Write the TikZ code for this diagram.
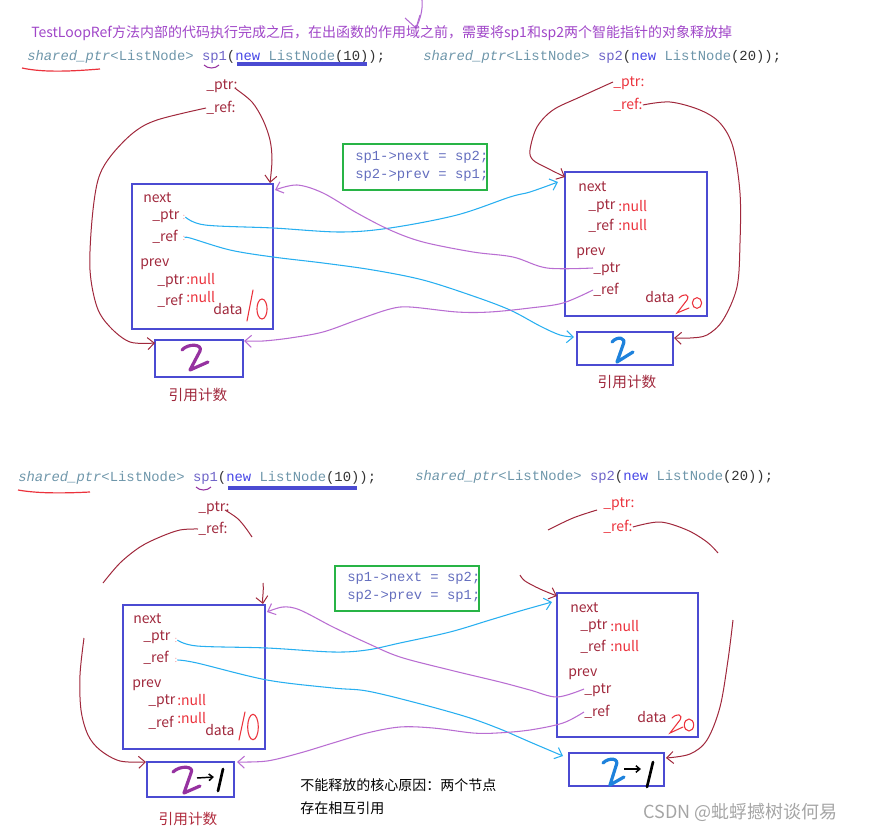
\documentclass[tikz,border=0pt]{standalone}
\usepackage{fontspec}
\setmainfont{Liberation Sans}
\newfontfamily\cjkf{Noto Sans CJK SC}
\newfontfamily\codef{Liberation Mono}
\usetikzlibrary{arrows.meta,fit}
\definecolor{mar}{RGB}{160,40,60}
\definecolor{redc}{RGB}{235,50,60}
\definecolor{ttl}{RGB}{160,70,200}
\definecolor{bbox}{RGB}{75,75,210}
\definecolor{gbox}{RGB}{40,180,70}
\definecolor{cyn}{RGB}{40,175,240}
\definecolor{pur}{RGB}{185,110,210}
\definecolor{cty}{RGB}{110,150,170}
\definecolor{cvar}{RGB}{110,100,200}
\definecolor{ckw}{RGB}{70,70,230}
\definecolor{cdk}{RGB}{50,50,50}
\definecolor{ccode}{RGB}{100,110,190}
\definecolor{two}{RGB}{150,50,160}
\definecolor{twob}{RGB}{30,130,220}
\definecolor{wm}{RGB}{165,165,165}
\newcommand\spdecl[2]{\textcolor{cty}{\itshape shared\_ptr}\textcolor{cty}{<ListNode>} \textcolor{cvar}{#1}\textcolor{cdk}{(}\textcolor{ckw}{new} \textcolor{cty}{ListNode}\textcolor{cdk}{(#2));}}
\begin{document}
\begin{tikzpicture}[x=0.75pt,y=-0.75pt,
  >={Straight Barb[length=5pt,width=9pt]},
  lbl/.style={font=\cjkf\fontsize{10.5}{12}\selectfont, text=mar, inner sep=0pt, anchor=west, text height=1.6ex, text depth=0.3ex},
  nul/.style={lbl, text=redc},
  tinycol/.style={font=\cjkf\fontsize{6}{7}\selectfont, text=redc!60, inner sep=0pt},
  cnt/.style={font=\cjkf\fontsize{11}{12}\selectfont, text=mar, inner sep=0pt},
  plain/.style={font=\cjkf\fontsize{10.5}{12}\selectfont, text=black, inner sep=0pt, anchor=west},
  codeline/.style={font=\codef\fontsize{10.4}{12}\selectfont, inner sep=0pt, anchor=west},
  listbox/.style={draw=bbox, line width=1.9pt, inner sep=0pt},
  greenbox/.style={draw=gbox, line width=1.6pt, inner sep=0pt},
  marline/.style={draw=mar, line width=0.75pt},
  cynline/.style={draw=cyn, line width=0.8pt},
  purline/.style={draw=pur, line width=0.8pt},
  hand/.style={line width=2.4pt, line cap=round, line join=round},
  thin/.style={line width=0.8pt, line cap=round},
  smoothp/.style={smooth, tension=0.55}
]
\useasboundingbox (0,0) rectangle (869,832);

% ================= TOP =================
\draw[ttl!80, line width=0.8pt] (422,0) .. controls (423,10) and (420,20) .. (416,28);
\draw[ttl!80, line width=0.8pt] (405,18) -- (416,28) -- (420,15);

\node[font=\cjkf\fontsize{10.5}{12}\selectfont, text=ttl, anchor=west, inner sep=0pt] (title) at (31,33)
  {TestLoopRef方法内部的代码执行完成之后，在出函数的作用域之前，需要将sp1和sp2两个智能指针的对象释放掉};

\node[codeline] (code1) at (27,57) {\spdecl{sp1}{10}};
\node[codeline] (code2) at (423,57) {\spdecl{sp2}{20}};
\draw[redc, line width=0.9pt] (22,68) .. controls (45,73) and (75,71) .. (100,69);
\draw[two, line width=0.8pt] (204,65) .. controls (208,69) and (215,69) .. (219,65);
\draw[bbox, line width=2.6pt] (237,64) -- (367,64);

\node[lbl] (tlp) at (206,85) {\_ptr:};
\node[lbl] (tlr) at (206,108) {\_ref:};
\node[nul] (trp) at (613,82) {\_ptr:};
\node[nul] (trr) at (613,105) {\_ref:};

% boxes
\node[listbox, fit={(132,184) (273,329)}] (n1) {};
\node[listbox, fit={(155,340) (243,377)}] (c1) {};
\node[cnt] (c1t) at (198,395) {引用计数};
\node[listbox, fit={(565,172) (707,316)}] (n2) {};
\node[listbox, fit={(577,332) (673,365)}] (c2) {};
\node[cnt] (c2t) at (627,382) {引用计数};
\node[greenbox, fit={(343,144) (487,190)}] (g1) {};
\node[codeline, text=ccode] (g1a) at (355,157) {sp1->next = sp2;};
\node[codeline, text=ccode] (g1b) at (355,175) {sp2->prev = sp1;};

% box 1 labels
\node[lbl] (n1a) at (143,198) {next};
\node[lbl] (n1b) at (152,215) {\_ptr};
\node[tinycol] (n1bc) at (184,217) {:};
\node[lbl] (n1c) at (152,237) {\_ref};
\node[tinycol] (n1cc) at (184,238) {:};
\node[lbl] (n1d) at (140,262) {prev};
\node[lbl] (n1e) at (157,280) {\_ptr};
\node[nul] (n1f) at (186,280) {:null};
\node[lbl] (n1g) at (157,301) {\_ref};
\node[nul] (n1h) at (186,298) {:null};
\node[lbl] (n1i) at (213,310) {data};
\draw[redc, thin] (253,290) -- (247,321);
\draw[redc, thin] (262,309) ellipse [x radius=3.8pt, y radius=7.5pt];

% box 2 labels
\node[lbl] (n2a) at (578,187) {next};
\node[lbl] (n2b) at (588,205) {\_ptr};
\node[nul] (n2bn) at (618,207) {:null};
\node[lbl] (n2c) at (588,226) {\_ref};
\node[nul] (n2cn) at (618,226) {:null};
\node[lbl] (n2d) at (576,251) {prev};
\node[lbl] (n2e) at (593,268) {\_ptr};
\node[lbl] (n2f) at (593,290) {\_ref};
\node[lbl] (n2g) at (645,298) {data};
\draw[redc, thin] (679,298) .. controls (684,293) and (690,294) .. (687,300) -- (677,313) -- (689,308);
\draw[redc, thin] (697,303) ellipse [x radius=3.5pt, y radius=4pt];

% counts
\draw[two, hand] (182,350) .. controls (188,343) and (203,344) .. (200,351) -- (190,370) -- (208,362);
\draw[twob, hand] (612,342) .. controls (617,336) and (627,337) .. (623,345) -- (617,362) -- (633,352);

% maroon curves top
\coordinate (a1) at (270,183);
\draw[marline, ->] plot[smoothp] coordinates {(236,89) (252,102) (263,120) (270,140) (272,160) (a1)};
\coordinate (a2) at (155,343);
\draw[marline, ->] plot[smoothp] coordinates {(tlr.west) (157,120) (133,133) (110,157) (98,180) (92,220) (90,270) (97,307) (110,327) (130,342) (a2)};
\coordinate (a3) at (565,177);
\draw[marline, ->] plot[smoothp] coordinates {(trp.west) (580,97) (553,110) (537,127) (530,150) (533,160) (547,168) (a3)};
\coordinate (a4) at (674,338);
\draw[marline, ->] plot[smoothp] coordinates {(trr.east) (670,102) (700,110) (720,123) (733,147) (740,193) (740,243) (737,287) (723,320) (707,335) (690,338) (a4)};

% cyan top
\coordinate (k1e) at (558,182);
\draw[cynline, ->] plot[smoothp] coordinates {(n1bc.east) (205,225) (273,228) (340,232) (390,228) (457,215) (510,197) (530,192) (k1e)};
\coordinate (k2e) at (574,337);
\draw[cynline, ->] plot[smoothp] coordinates {(n1cc.east) (190,238) (230,250) (273,257) (323,263) (373,270) (423,280) (473,296) (510,310) (540,326) (560,335) (k2e)};

% purple top
\coordinate (q1e) at (275,190);
\draw[purline, ->] plot[smoothp] coordinates {(n2e.west) (547,268) (513,257) (473,252) (423,242) (390,230) (357,213) (323,193) (297,185) (q1e)};
\coordinate (q2e) at (244,341);
\draw[purline, ->] plot[smoothp] coordinates {(n2f.west) (563,303) (530,308) (490,312) (457,312) (410,307) (390,309) (357,320) (323,332) (290,338) (263,341) (q2e)};

% ================= BOTTOM =================
\node[codeline] (code3) at (18,478) {\spdecl{sp1}{10}};
\node[codeline] (code4) at (415,477) {\spdecl{sp2}{20}};
\draw[redc, line width=0.9pt] (18,490) .. controls (40,494) and (70,493) .. (90,492);
\draw[two, line width=0.8pt] (196,487) .. controls (200,491) and (207,491) .. (211,487);
\draw[bbox, line width=2.6pt] (228,488) -- (357,488);

\node[lbl] (blp) at (198,507) {\_ptr:};
\node[lbl] (blr) at (198,529) {\_ref:};
\node[nul] (brp) at (603,503) {\_ptr:};
\node[nul] (brr) at (603,527) {\_ref:};

\node[listbox, fit={(123,605) (265,749)}] (n3) {};
\node[listbox, fit={(147,762) (234,797)}] (c3) {};
\node[cnt, text=mar!80!redc] (c3t) at (188,819) {引用计数};
\node[listbox, fit={(557,593) (698,737)}] (n4) {};
\node[listbox, fit={(569,753) (664,786)}] (c4) {};
\node[greenbox, fit={(335,566) (479,611)}] (g2) {};
\node[codeline, text=ccode] (g2a) at (347,578) {sp1->next = sp2;};
\node[codeline, text=ccode] (g2b) at (347,596) {sp2->prev = sp1;};

\node[plain] (why1) at (300,785) {不能释放的核心原因：两个节点};
\node[plain] (why2) at (300,808) {存在相互引用};

% box 3 labels
\node[lbl] (n3a) at (133,619) {next};
\node[lbl] (n3b) at (143,636) {\_ptr};
\node[tinycol] (n3bc) at (176,640) {:};
\node[lbl] (n3c) at (143,658) {\_ref};
\node[tinycol] (n3cc) at (176,660) {:};
\node[lbl] (n3d) at (132,683) {prev};
\node[lbl] (n3e) at (148,700) {\_ptr};
\node[nul] (n3f) at (177,701) {:null};
\node[lbl] (n3g) at (148,723) {\_ref};
\node[nul] (n3h) at (177,719) {:null};
\node[lbl] (n3i) at (205,731) {data};
\draw[redc, thin] (245,712) -- (239,740);
\draw[redc, thin] (253,727) ellipse [x radius=4pt, y radius=9.5pt];

% box 4 labels
\node[lbl] (n4a) at (570,608) {next};
\node[lbl] (n4b) at (580,625) {\_ptr};
\node[nul] (n4bn) at (610,627) {:null};
\node[lbl] (n4c) at (580,647) {\_ref};
\node[nul] (n4cn) at (610,647) {:null};
\node[lbl] (n4d) at (568,672) {prev};
\node[lbl] (n4e) at (584,689) {\_ptr};
\node[lbl] (n4f) at (584,712) {\_ref};
\node[lbl] (n4g) at (637,718) {data};
\draw[redc, thin] (672,718) .. controls (677,713) and (683,714) .. (680,720) -- (670,733) -- (683,727);
\draw[redc, thin] (689,725) ellipse [x radius=3.5pt, y radius=4.5pt];

% counts 2->1
\draw[two, hand] (173,772) .. controls (180,765) and (195,766) .. (191,773) -- (184,793) -- (200,786);
\draw[black, line width=1.1pt, ->, >={Straight Barb[length=3pt,width=5pt]}] (197,778) -- (214,777);
\draw[black, line width=2pt, line cap=round] (223,769) -- (218,791);
\draw[twob, hand] (603,763) .. controls (609,757) and (620,758) .. (616,766) -- (610,785) -- (624,777);
\draw[black, line width=1.1pt, ->, >={Straight Barb[length=3pt,width=5pt]}] (624,769) -- (641,769);
\draw[black, line width=2pt, line cap=round] (653,762) -- (647,787);

% maroon curves bottom
\draw[marline] plot[smoothp] coordinates {(225,510) (237,518) (245,527) (252,537)};
\draw[marline] plot[smoothp] coordinates {(blr.west) (180,530) (160,537) (140,547) (120,563) (103,583)};
\coordinate (b1) at (263,604);
\draw[marline, ->] (263,583) .. controls (264,592) and (262,598) .. (b1);
\coordinate (b2) at (146,762);
\draw[marline, ->] plot[smoothp] coordinates {(84,638) (80,675) (81,710) (88,735) (100,750) (120,761) (b2)};
\draw[marline] plot[smoothp] coordinates {(597,510) (573,518) (548,530)};
\draw[marline] plot[smoothp] coordinates {(brr.east) (660,522) (687,530) (707,542) (718,553)};
\coordinate (b3) at (557,596);
\draw[marline, ->] plot[smoothp] coordinates {(520,575) (525,581) (540,589) (b3)};
\coordinate (b4) at (666,758);
\draw[marline, ->] plot[smoothp] coordinates {(733,620) (728,660) (720,707) (707,740) (690,754) (b4)};

% cyan bottom
\coordinate (k3e) at (552,602);
\draw[cynline, ->] plot[smoothp] coordinates {(n3bc.east) (197,646) (267,648) (333,652) (367,650) (400,643) (450,632) (490,620) (520,611) (k3e)};
\coordinate (k4e) at (563,756);
\draw[cynline, ->] plot[smoothp] coordinates {(n3cc.east) (197,663) (267,680) (333,688) (367,691) (417,703) (467,717) (500,729) (530,742) (k4e)};

% purple bottom
\coordinate (q3e) at (267,612);
\draw[purline, ->] plot[smoothp] coordinates {(n4e.west) (557,697) (530,690) (500,682) (450,670) (400,657) (367,643) (333,627) (300,610) (283,607) (q3e)};
\coordinate (q4e) at (237,762);
\draw[purline, ->] plot[smoothp] coordinates {(n4f.west) (563,723) (530,730) (497,733) (473,733) (433,728) (400,727) (367,733) (333,743) (300,753) (267,761) (q4e)};

% watermark
\node[font=\cjkf\fontsize{13.5}{15}\selectfont, text=wm, anchor=west, inner sep=0pt] (wmk) at (643,812) {CSDN @蚍蜉撼树谈何易};
\end{tikzpicture}
\end{document}
